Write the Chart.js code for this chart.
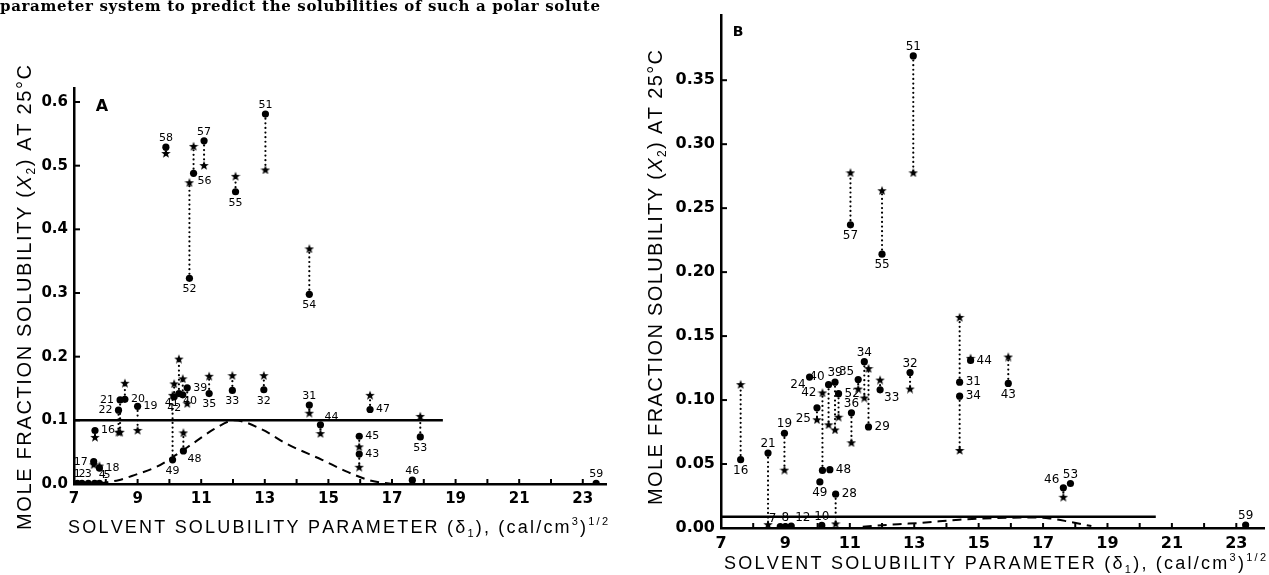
<!DOCTYPE html>
<html>
<head>
<meta charset="utf-8">
<script src="https://cdn.jsdelivr.net/npm/chart.js@4"></script>
<style>
  html, body { margin: 0; padding: 0; background: #fff; }
  #wrap { position: relative; width: 1269px; height: 575px; overflow: hidden; }
  canvas { position: absolute; top: 0; }
  #ca { left: 0; }
  #cb { left: 640px; }
</style>
</head>
<body>
<div id="wrap">
  <canvas id="ca" width="640" height="575"></canvas>
  <canvas id="cb" width="629" height="575"></canvas>
</div>
<script>
// ---- data ----
// panel A: solvent number, delta1, observed (circle) and calculated (star) mole fraction
var aId    = ['1','2','3','4','5','16','17','18','19','20','21','22','39','40','41','42','49','48','35','33','32','31','44','47','45','43','53','46','59','54','52','56','58','57','55','51'];
var aDelta = [7.10, 7.25, 7.45, 7.65, 7.80, 7.66, 7.62, 7.80, 9.00, 8.60, 8.45, 8.40, 10.56, 10.30, 10.42, 10.15, 10.10, 10.44, 11.25, 11.98, 12.97, 14.40, 14.75, 16.31, 15.97, 15.97, 17.89, 17.64, 23.42, 14.40, 10.63, 10.76, 9.89, 11.09, 12.08, 13.02];
var aObs   = [0.001, 0.001, 0.001, 0.001, 0.001, 0.084, 0.035, 0.025, 0.122, 0.133, 0.132, 0.116, 0.151, 0.142, 0.140, 0.137, 0.038, 0.052, 0.142, 0.147, 0.148, 0.124, 0.093, 0.117, 0.075, 0.047, 0.074, 0.006, 0.001, 0.298, 0.323, 0.488, 0.529, 0.539, 0.459, 0.581];
var aCalc  = [null, null, null, null, null, 0.074, 0.031, 0.029, 0.085, 0.159, 0.082, 0.082, 0.127, 0.197, 0.166, 0.158, 0.140, 0.081, 0.170, 0.171, 0.171, 0.112, 0.080, 0.140, 0.059, 0.027, 0.107, null, null, 0.370, 0.474, 0.531, 0.520, 0.501, 0.484, 0.494];
var aCurveX = [7.8, 8.4, 8.9, 9.6, 10.1, 10.75, 11.4, 12.05, 12.9, 13.65, 14.8, 15.6, 16.35, 17.0];
var aCurveY = [0.001, 0.006, 0.014, 0.027, 0.042, 0.064, 0.086, 0.100, 0.086, 0.064, 0.038, 0.019, 0.005, 0.0];
var aRefX = [7, 18.6];
var aRefY = 0.1;
var aYTicks = [0, 0.1, 0.2, 0.3, 0.4, 0.5, 0.6];

// panel B
var bId    = ['16','21','19','7','8','12','10','24','25','42','40','39','52','49','48','28','36','35','34','29','33','32','31','34','44','43','46','53','57','55','51','59'];
var bDelta = [7.61, 8.46, 8.97, 8.84, 9.00, 9.18, 10.13, 9.75, 9.98, 10.15, 10.34, 10.54, 10.65, 10.07, 10.38, 10.56, 11.05, 11.26, 11.45, 11.58, 11.94, 12.87, 14.41, 14.41, 14.75, 15.92, 17.63, 17.85, 11.02, 12.00, 12.97, 23.29];
var bObs   = [0.0534, 0.0586, 0.074, 0.001, 0.001, 0.0015, 0.002, 0.118, 0.094, 0.045, 0.112, 0.114, 0.105, 0.036, 0.0456, 0.0264, 0.090, 0.116, 0.130, 0.079, 0.108, 0.1215, 0.114, 0.103, 0.131, 0.113, 0.0314, 0.0348, 0.237, 0.214, 0.369, 0.0023];
var bCalc  = [0.1125, 0.003, 0.0456, null, null, null, null, null, 0.085, 0.106, 0.081, 0.077, 0.087, null, null, 0.0036, 0.067, 0.109, 0.102, 0.125, 0.116, 0.109, 0.165, 0.061, 0.133, 0.134, 0.0244, null, 0.278, 0.264, 0.278, null];
var bCurveX = [11.4, 12.5, 13.2, 14.4, 15.5, 16.6, 17.2, 17.8, 18.5];
var bCurveY = [0.001, 0.003, 0.004, 0.0065, 0.0078, 0.0082, 0.0075, 0.005, 0.0015];
var bRefX = [7, 20.5];
var bRefY = 0.0088;
var bYTicks = [0, 0.05, 0.10, 0.15, 0.20, 0.25, 0.30, 0.35];

var xTicks = [7, 9, 11, 13, 15, 17, 19, 21, 23];

// where each number label sits relative to its circle (s = relative to the star)
var aSide = ['a','a','a','ra','ra','r','l','r','r','r','l','l','r','rb','lb','b','b','rb','b','b','b','a','ra','r','r','r','b','a','a','b','b','rb','a','a','b','a'];
var bSide = ['b','a','a','la','a','ra','a','lb','sl','sl','la','a','r','b','r','r','a','la','a','r','rb','a','r','r','r','b','la','a','b','b','a','a'];

var SANS = '"Liberation Sans", Arial, sans-serif';
var WIDE = '"DejaVu Sans", Verdana, sans-serif';

function starImg(size) {
  var c = document.createElement('canvas');
  c.width = size; c.height = size;
  var g = c.getContext('2d');
  g.fillStyle = '#000';
  g.beginPath();
  for (var i = 0; i < 10; i++) {
    var r = i % 2 ? size * 0.21 : size * 0.5;
    var a = -Math.PI / 2 + i * Math.PI / 5;
    g.lineTo(size / 2 + r * Math.cos(a), size / 2 + 0.7 + r * Math.sin(a));
  }
  g.closePath();
  g.fill();
  return c;
}
var STAR = starImg(10);

// draw text char by char, spread to a given width
function spaced(ctx, segs, x0, y0, size, family, width, weight) {
  var items = [];
  segs.forEach(function (s) {
    var fs = s.k ? Math.round(size * 0.62) : size;
    var font = (s.i ? 'italic ' : '') + (weight ? weight + ' ' : '') + fs + 'px ' + family;
    var dy = s.k === 'sub' ? size * 0.22 : (s.k === 'sup' ? -size * 0.42 : 0);
    ctx.font = font;
    Array.from(s.t).forEach(function (ch) {
      items.push({ ch: ch, font: font, dy: dy, w: ctx.measureText(ch).width });
    });
  });
  var nat = items.reduce(function (a, b) { return a + b.w; }, 0);
  var gap = width ? (width - nat) / (items.length - 1) : 0;
  var x = x0;
  items.forEach(function (it) {
    ctx.font = it.font;
    ctx.fillText(it.ch, x, y0 + it.dy);
    x += it.w + gap;
  });
}

var xTitle = [{ t: 'SOLVENT SOLUBILITY PARAMETER (\u03b4' }, { t: '1', k: 'sub' }, { t: '), (cal/cm' }, { t: '3', k: 'sup' }, { t: ')' }, { t: '1/2', k: 'sup' }];
var yTitle = [{ t: 'MOLE FRACTION SOLUBILITY (' }, { t: 'X', i: true }, { t: '2', k: 'sub' }, { t: ') AT 25\u00b0C' }];

var OFF = { a: [0, -9, 'center'], b: [0, 11, 'center'], l: [-6, 0, 'right'], r: [6, 0, 'left'],
            la: [-4, -8, 'right'], lb: [-4, 8, 'right'], ra: [4, -8, 'left'], rb: [4, 8, 'left'] };

var decor = {
  id: 'decor',
  afterDraw: function (chart) {
    var L = chart.options.plugins.decor;
    var ctx = chart.ctx, xs = chart.scales.x, ys = chart.scales.y;
    var area = chart.chartArea;
    ctx.save();
    ctx.fillStyle = '#000';
    ctx.strokeStyle = '#000';
    // inward tick marks
    ctx.lineWidth = 2;
    L.yTicks.forEach(function (v) {
      var py = ys.getPixelForValue(v);
      ctx.beginPath(); ctx.moveTo(area.left, py); ctx.lineTo(area.left + 6, py); ctx.stroke();
    });
    for (var v = 8; v <= 23; v++) {
      var px = xs.getPixelForValue(v);
      ctx.beginPath(); ctx.moveTo(px, area.bottom); ctx.lineTo(px, area.bottom - 5); ctx.stroke();
    }
    // number labels
    ctx.font = L.labelSize + 'px ' + WIDE;
    ctx.textBaseline = 'middle';
    L.ids.forEach(function (n, i) {
      var side = L.side[i];
      var val = L.obs[i];
      if (side.charAt(0) === 's') { side = side.slice(1); val = L.calc[i]; }
      var o = OFF[side];
      ctx.textAlign = o[2];
      ctx.fillText(n, xs.getPixelForValue(L.x[i]) + o[0], ys.getPixelForValue(val) + o[1]);
    });
    // titles
    ctx.textAlign = 'left';
    ctx.textBaseline = 'alphabetic';
    spaced(ctx, xTitle, L.xt[0], L.xt[1], 18, SANS, L.xt[2]);
    ctx.save();
    ctx.translate(L.yt[0], L.yt[1]);
    ctx.rotate(-Math.PI / 2);
    spaced(ctx, yTitle, 0, 7, 20, SANS, L.yt[2]);
    ctx.restore();
    ctx.font = 'bold ' + L.letter[3] + 'px ' + WIDE;
    ctx.textAlign = 'center';
    ctx.textBaseline = 'middle';
    ctx.fillText(L.letter[0], L.letter[1], L.letter[2]);
    if (L.caption) {
      ctx.textAlign = 'left';
      ctx.textBaseline = 'alphabetic';
      spaced(ctx, [{ t: L.caption }], 0, 11, 15, '"DejaVu Serif", serif', 600, 'bold');
    }
    ctx.restore();
  }
};

function panel(id, d, L) {
  var pairs = [], circles = [], stars = [];
  d.ids.forEach(function (n, i) {
    var x = d.x[i];
    if (d.obs[i] != null) circles.push({ x: x, y: d.obs[i] });
    if (d.calc[i] != null) stars.push({ x: x, y: d.calc[i] });
    if (d.obs[i] != null && d.calc[i] != null) {
      pairs.push({ x: x, y: d.obs[i] }, { x: x, y: d.calc[i] }, { x: x, y: null });
    }
  });
  var tickFont = { family: WIDE, size: L.tickSize, weight: 'bold' };
  return new Chart(document.getElementById(id), {
    type: 'scatter',
    data: {
      datasets: [
        { type: 'line', data: pairs, borderColor: '#000', borderWidth: 2.2, borderDash: [0.01, 4.6],
          borderCapStyle: 'round', pointRadius: 0, spanGaps: false, order: 3 },
        { type: 'line', data: d.curveX.map(function (x, i) { return { x: x, y: d.curveY[i] }; }),
          borderColor: '#000', borderWidth: 2, borderDash: [9, 6], pointRadius: 0,
          cubicInterpolationMode: 'monotone', order: 2 },
        { type: 'line', data: d.refX.map(function (x) { return { x: x, y: d.refY }; }),
          borderColor: '#000', borderWidth: 2.5, pointRadius: 0, order: 2 },
        { data: stars, pointStyle: STAR, order: 1 },
        { data: circles, pointStyle: 'circle', pointRadius: 3.6, backgroundColor: '#000', borderWidth: 0, order: 0 }
      ]
    },
    options: {
      responsive: false,
      devicePixelRatio: 1,
      animation: false,
      events: [],
      layout: { padding: { top: L.top, right: L.right, left: 0, bottom: 0 } },
      plugins: {
        legend: { display: false },
        tooltip: { enabled: false },
        decor: Object.assign({ ids: d.ids, x: d.x, obs: d.obs, calc: d.calc, side: d.side, yTicks: d.yTicks }, L)
      },
      scales: {
        x: {
          type: 'linear', min: 7, max: L.xMax,
          afterFit: function (s) { s.height = L.xh; },
          afterBuildTicks: function (s) { s.ticks = xTicks.map(function (v) { return { value: v }; }); },
          grid: { display: false, drawTicks: false },
          border: { display: true, color: '#000', width: 2.5 },
          ticks: { color: '#000', font: tickFont, padding: L.xpad, maxRotation: 0, autoSkip: false }
        },
        y: {
          type: 'linear', min: 0, max: L.yMax,
          afterFit: function (s) { s.width = L.yw; },
          afterBuildTicks: function (s) { s.ticks = d.yTicks.map(function (v) { return { value: v }; }); },
          grid: { display: false, drawTicks: false },
          border: { display: true, color: '#000', width: 2.5 },
          ticks: { color: '#000', font: tickFont, padding: 6,
                   callback: function (v) { return v.toFixed(L.dec); } }
        }
      }
    },
    plugins: [decor]
  });
}

panel('ca',
  { ids: aId, x: aDelta, obs: aObs, calc: aCalc, side: aSide, curveX: aCurveX, curveY: aCurveY,
    refX: aRefX, refY: aRefY, yTicks: aYTicks },
  { top: 88, right: 34, xh: 91, yw: 74, xMax: 23.73, yMax: 0.622, dec: 1, tickSize: 15, xpad: 6,
    labelSize: 11, xt: [68, 533, 540], yt: [24, 530, 465], letter: ['A', 102, 107, 16],
    caption: 'parameter system to predict the solubilities of such a polar solute' });

panel('cb',
  { ids: bId, x: bDelta, obs: bObs, calc: bCalc, side: bSide, curveX: bCurveX, curveY: bCurveY,
    refX: bRefX, refY: bRefY, yTicks: bYTicks },
  { top: 13, right: 0, xh: 47, yw: 81, xMax: 23.86, yMax: 0.4005, dec: 2, tickSize: 16, xpad: 6,
    labelSize: 12, xt: [84, 569, 542], yt: [15, 505, 455], letter: ['B', 98, 32, 14] });
</script>
</body>
</html>
